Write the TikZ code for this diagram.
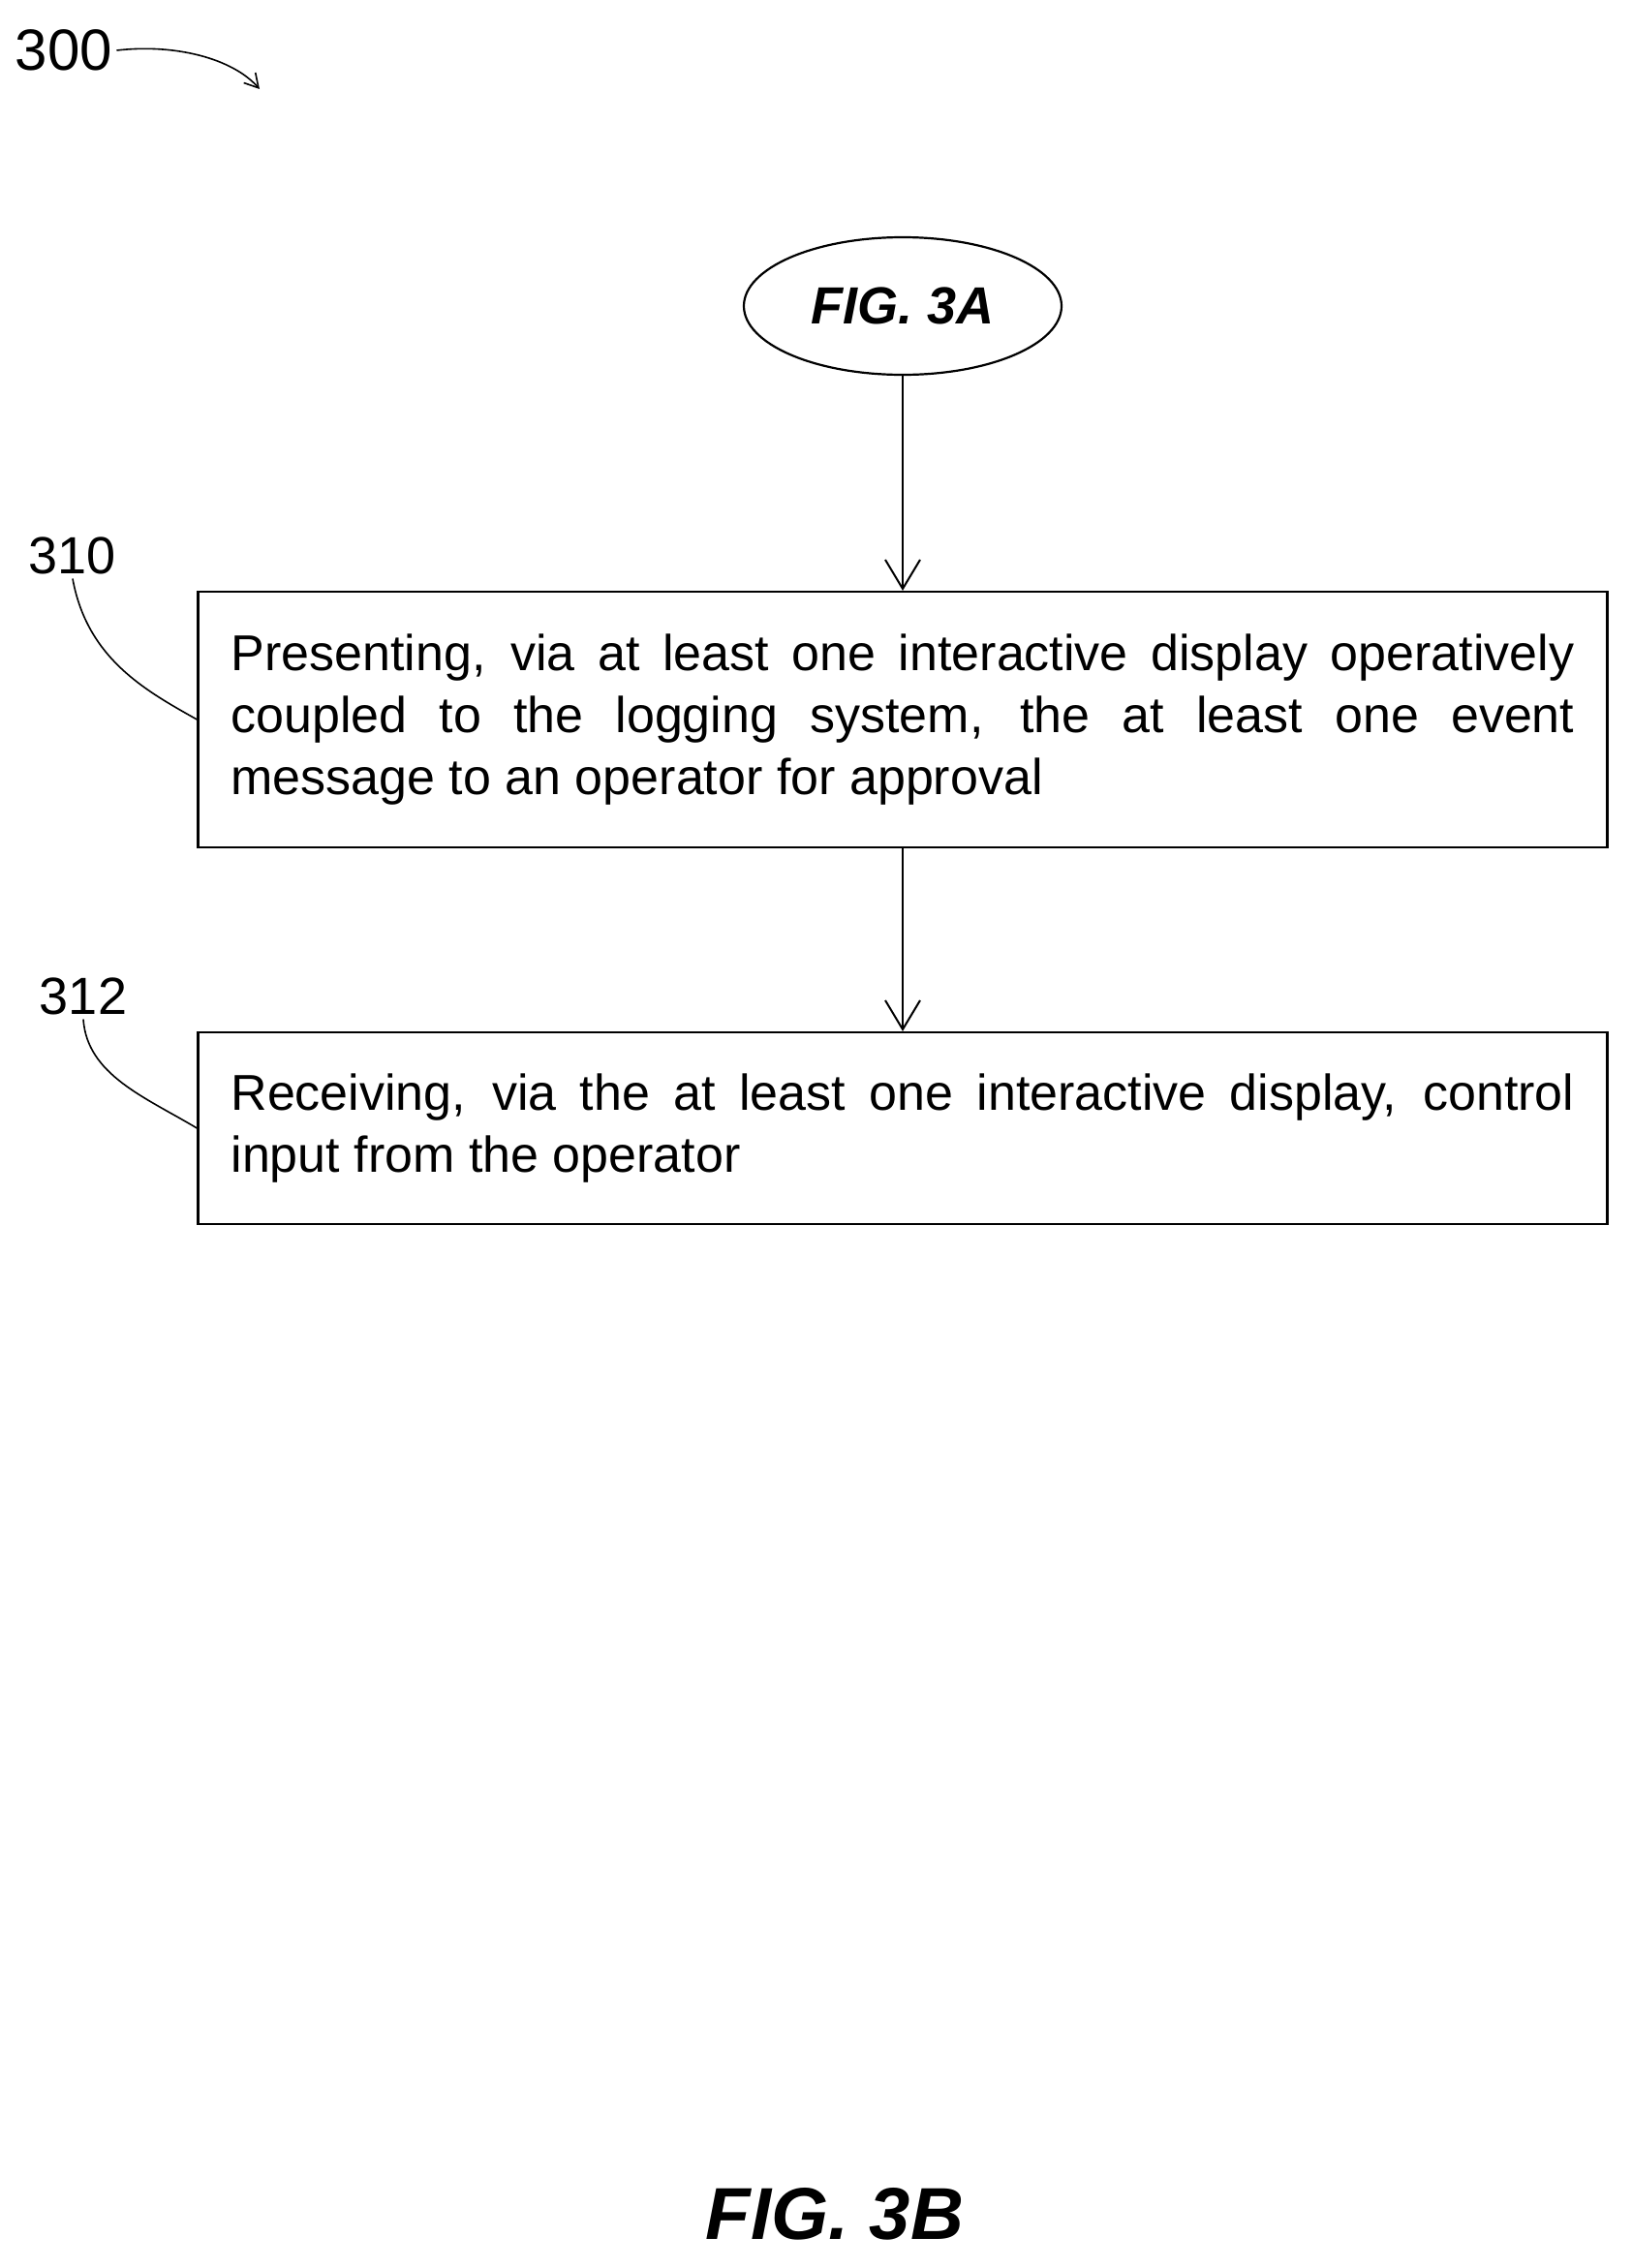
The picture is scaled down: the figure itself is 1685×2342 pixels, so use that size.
\documentclass[tikz,border=0pt]{standalone}
\usepackage{fontspec}
\setmainfont{Liberation Sans}
\usetikzlibrary{shapes.geometric,positioning,arrows.meta}
\hyphenpenalty=10000
\tikzstyle{stepbox} = [draw,rectangle,line width=2.2pt,text width=1387pt,inner xsep=34pt,inner ysep=0pt,align=justify,font=\fontsize{52}{64}\selectfont]
\tikzstyle{conn} = [draw,ellipse,line width=2.2pt,minimum width=328pt,minimum height=142pt,font=\fontsize{54}{60}\selectfont\bfseries\itshape]
\tikzstyle{ref}  = [font=\fontsize{54}{60}\selectfont]
\tikzstyle{lead} = [line width=1.6pt]
\tikzstyle{flow} = [-{Straight Barb[length=30pt,width=36pt,line width=2pt]}]

\begin{document}
\begin{tikzpicture}[x=1pt,y=-1pt,line width=2.2pt]
\useasboundingbox (0,0) rectangle (1685,2342);

\node[conn] (A) at (932,316) {FIG. 3A};
\node[stepbox,minimum height=264pt] (S310) at (932,743) {Presenting, via at least one interactive display operatively\linebreak coupled to the logging system, the at least one event\linebreak message to an operator for approval\par};
\node[stepbox,minimum height=198pt] (S312) at (932,1165) {Receiving, via the at least one interactive display, control\linebreak input from the operator\par};

\node[ref,font=\fontsize{60}{60}\selectfont] (L300) at (66,52) {300};
\node[ref] (L310) at (75,574) {310};
\node[ref] (L312) at (86,1029) {312};
\node[font=\fontsize{76}{80}\selectfont\bfseries\itshape] (F) at (862,2286) {FIG. 3B};

\path
	(A) edge[flow] (S310)
	(S310) edge[flow] (S312);

\draw[lead,-{Straight Barb[length=14pt,width=16pt]}] (L300.east) .. controls (180,45) and (240,60) .. (268,92);
\draw[lead] (L310.south) .. controls (90,680) and (150,713) .. (S310.west);
\draw[lead] (L312.south) .. controls (90,1110) and (150,1133) .. (S312.west);

\end{tikzpicture}
\end{document}
